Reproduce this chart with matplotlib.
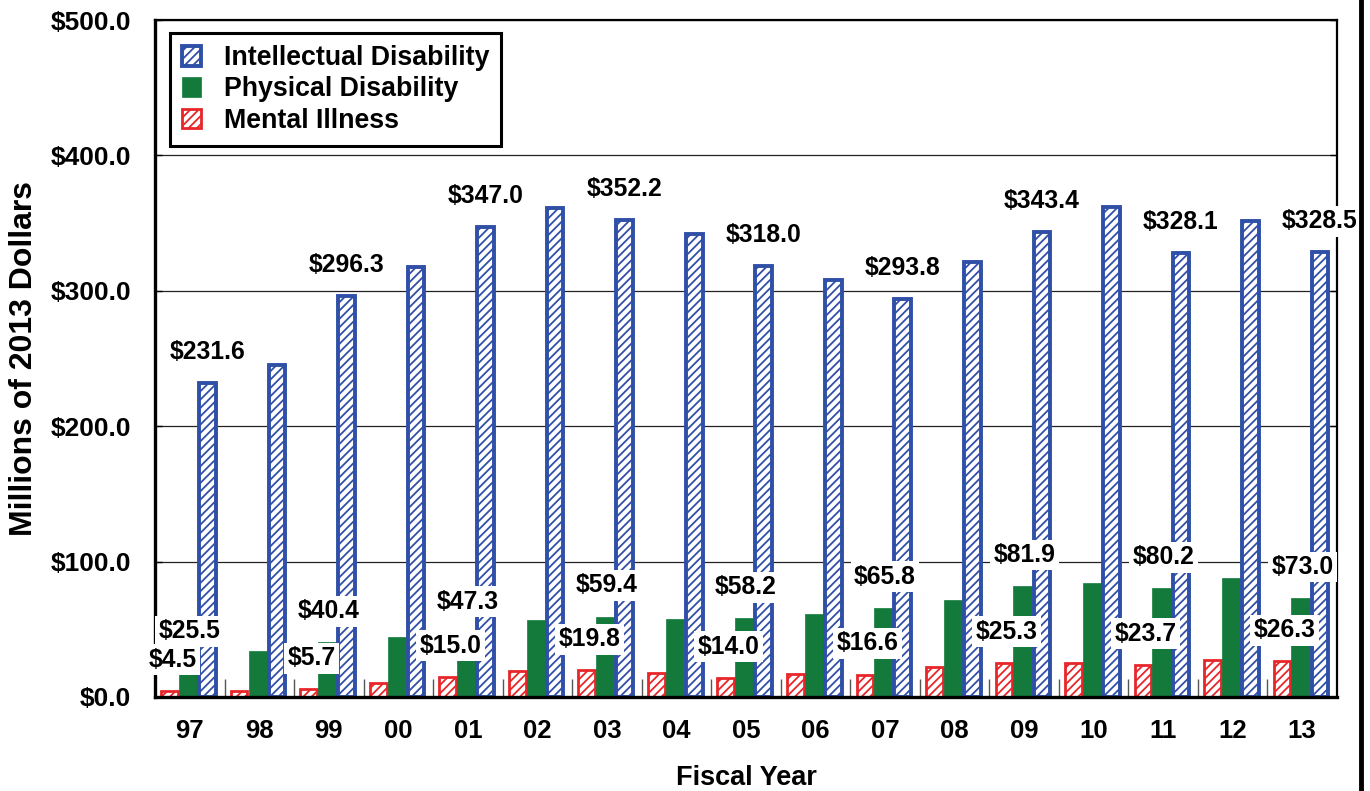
import matplotlib
matplotlib.use("Agg")
import matplotlib.pyplot as plt
import numpy as np
from matplotlib.lines import Line2D

# ---- data ----
years = ["97", "98", "99", "00", "01", "02", "03", "04", "05", "06",
         "07", "08", "09", "10", "11", "12", "13"]
intellectual = [231.6, 245.0, 296.3, 317.5, 347.0, 361.0, 352.2, 342.0, 318.0,
                308.0, 293.8, 321.5, 343.4, 362.0, 328.1, 351.4, 328.5]
physical = [17.0, 34.0, 40.4, 44.5, 47.3, 57.0, 59.4, 57.5, 58.2,
            61.0, 65.8, 71.5, 81.9, 84.5, 80.2, 88.0, 73.0]
mental = [4.5, 4.6, 5.7, 10.5, 15.0, 19.5, 19.8, 17.5, 14.0,
          16.8, 16.6, 22.0, 25.3, 25.0, 23.7, 27.0, 26.3]

# labelled years (every other year) and their label values
label_idx = [0, 2, 4, 6, 8, 10, 12, 14, 16]
intellectual_labels = [231.6, 296.3, 347.0, 352.2, 318.0, 293.8, 343.4, 328.1, 328.5]
physical_labels = [25.5, 40.4, 47.3, 59.4, 58.2, 65.8, 81.9, 80.2, 73.0]
mental_labels = [4.5, 5.7, 15.0, 19.8, 14.0, 16.6, 25.3, 23.7, 26.3]

series_names = ["Intellectual Disability", "Physical Disability", "Mental Illness"]
yticks = [0, 100, 200, 300, 400, 500]

# ---- style ----
BLUE = "#3050a8"
GREEN = "#137a3c"
RED = "#e8262a"
plt.rcParams['font.family'] = ['Liberation Sans', 'DejaVu Sans']
plt.rcParams['font.weight'] = 'bold'
plt.rcParams['hatch.linewidth'] = 1.3

fig = plt.figure(figsize=(13.7, 7.91), dpi=100)
ax = fig.add_axes([155/1370, 1-697/791, (1337-155)/1370, (697-20)/791])

x = np.arange(len(years))
w = 0.24
off_r, off_g, off_b = -0.29, -0.02, 0.255

ax.bar(x + off_r, mental, w, color="white", edgecolor=RED, hatch="////",
       linewidth=2.0, zorder=3, label=series_names[2])
ax.bar(x + off_g, physical, 0.27, color=GREEN, edgecolor=GREEN,
       linewidth=0.5, zorder=3, label=series_names[1])
ax.bar(x + off_b, intellectual, w, color="white", edgecolor=BLUE, hatch="////",
       linewidth=2.8, zorder=3, label=series_names[0])

# data labels
lab_off = 23
box = dict(facecolor="white", edgecolor="none", pad=2.5)
for i, v in zip(label_idx, intellectual_labels):
    ax.text(i + off_b, v + lab_off, f"${v:.1f}", ha="center", va="center",
            fontsize=17.8, fontweight="bold", zorder=5, bbox=box, clip_on=False)
for i, v in zip(label_idx, physical_labels):
    ax.text(i + off_g + 0.02, v + lab_off, f"${v:.1f}", ha="center", va="center",
            fontsize=17.8, fontweight="bold", zorder=5, bbox=box, clip_on=False)
for i, v in zip(label_idx, mental_labels):
    ax.text(i + off_r + 0.04, v + lab_off, f"${v:.1f}", ha="center", va="center",
            fontsize=17.8, fontweight="bold", zorder=6, bbox=box, clip_on=False)

# axes
ax.set_xlim(-0.5, len(years) - 0.5)
ax.set_ylim(0, 500)
ax.set_yticks(yticks)
ax.set_yticklabels([f"${t:.1f}" for t in yticks], fontsize=19, fontweight="bold")
ax.set_xticks(x)
ax.set_xticklabels(years, fontsize=18.5, fontweight="bold")
ax.set_xticks(np.arange(0.5, len(years) - 1, 1), minor=True)
ax.tick_params(axis="x", which="major", length=0, pad=16)
ax.tick_params(axis="x", which="minor", direction="in", length=13, width=1, color="#555555")
ax.tick_params(axis="y", which="major", direction="in", length=5, width=1,
               right=True, pad=17)
ax.yaxis.grid(True, color="#222222", linewidth=0.9, zorder=0)
ax.set_axisbelow(True)

for s in ["left", "bottom"]:
    ax.spines[s].set_linewidth(2.4)
for s in ["top", "right"]:
    ax.spines[s].set_linewidth(1.6)
for s in ax.spines.values():
    s.set_zorder(4)

ax.set_ylabel("Millions of 2013 Dollars", fontsize=23, fontweight="bold")
ax.yaxis.set_label_coords(-0.098, 0.5)
ax.set_xlabel("Fiscal Year", fontsize=19.5, fontweight="bold")
ax.xaxis.set_label_coords(0.5, -0.101)

handles, labels = ax.get_legend_handles_labels()
leg = ax.legend(handles[::-1], labels[::-1], loc="upper left",
                bbox_to_anchor=(15/1182, 1 - 13/677), borderaxespad=0,
                prop={"size": 19.3, "weight": "bold"}, fancybox=False,
                framealpha=1, edgecolor="black", handlelength=0.7,
                handleheight=0.75, handletextpad=0.85, labelspacing=0.2,
                borderpad=0.45)
leg.get_frame().set_linewidth(2.2)
leg.set_zorder(7)

# page border line at right
fig.add_artist(Line2D([1361/1370, 1361/1370], [0, 1], color="black", linewidth=3.5))

fig.savefig("out.png", dpi=100)
